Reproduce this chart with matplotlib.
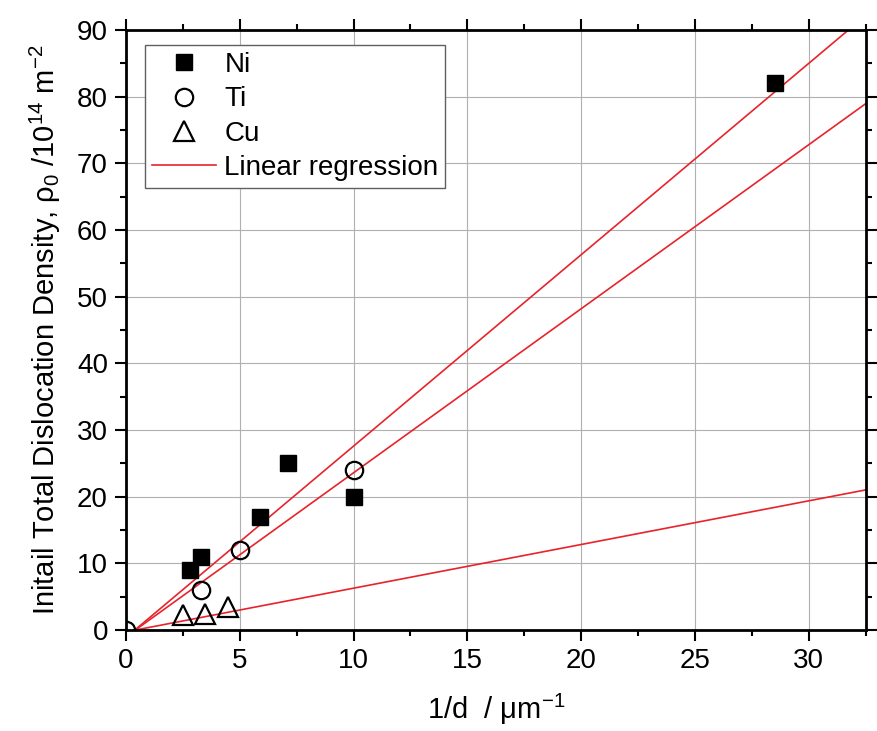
import matplotlib.pyplot as plt
import numpy as np

plt.rcParams['font.family'] = ['Liberation Sans', 'DejaVu Sans']
plt.rcParams['mathtext.fontset'] = 'custom'
plt.rcParams['mathtext.rm'] = 'Liberation Sans'
plt.rcParams['mathtext.it'] = 'Liberation Sans'

# data
ni_x = [2.8, 3.3, 5.9, 7.1, 10.0, 28.5]
ni_y = [9, 11, 17, 25, 20, 82]
ti_x = [0.0, 3.3, 5.0, 10.0]
ti_y = [0, 6, 12, 24]
cu_x = [2.5, 3.45, 4.5]
cu_y = [2.2, 2.4, 3.5]

# regression lines (slope, intercept)
fits = [(2.87, -1.1), (2.46, -1.0), (0.655, -0.26)]

fig = plt.figure(figsize=(8.78, 7.31), dpi=100)
ax = fig.add_axes([0.1435, 0.138, 0.8425, 0.821])

xl = np.array([0, 33])
for i, (m, b) in enumerate(fits):
    ax.plot(xl, m * xl + b, color='#e8232b', linewidth=1.2,
            label='Linear regression' if i == 0 else None, zorder=2)

ax.plot(ni_x, ni_y, 's', color='black', markersize=11.5, linestyle='none',
        label='Ni', zorder=3)
ax.plot(ti_x, ti_y, 'o', markerfacecolor='none', markeredgecolor='black',
        markersize=12.5, markeredgewidth=1.6, linestyle='none', label='Ti', zorder=3)
ax.plot(cu_x, cu_y, '^', markerfacecolor='none', markeredgecolor='black',
        markersize=14, markeredgewidth=1.6, linestyle='none', label='Cu', zorder=3)

ax.set_xlim(0, 32.5)
ax.set_ylim(0, 90)
ax.set_xticks(np.arange(0, 31, 5))
ax.set_xticks(np.arange(2.5, 33, 5), minor=True)
ax.set_yticks(np.arange(0, 91, 10))
ax.set_yticks(np.arange(5, 90, 10), minor=True)
ax.grid(True, which='major', color='#b0b0b0', linewidth=0.8)
ax.set_axisbelow(True)

for s in ax.spines.values():
    s.set_linewidth(2)
ax.tick_params(which='major', direction='out', length=8, width=1.5,
               top=True, right=True, labelsize=20, pad=5)
ax.tick_params(which='minor', direction='out', length=4, width=1.5,
               top=True, right=True)

ax.set_xlabel(r'1/d  / $\mu$m$^{-1}$', fontsize=21, labelpad=13)
ax.set_ylabel(r'Initail Total Dislocation Density, $\rho_0$ /10$^{14}$ m$^{-2}$',
              fontsize=21, labelpad=10)

h, l = ax.get_legend_handles_labels()
order = [1, 2, 3, 0]
ax.legend([h[i] for i in order], [l[i] for i in order], loc='upper left',
          bbox_to_anchor=(0.026, 0.975), fontsize=20, fancybox=False,
          edgecolor='#606060', framealpha=1, handlelength=2.3,
          borderpad=0.25, labelspacing=0.3, handletextpad=0.3,
          borderaxespad=0)

plt.savefig('out.png', dpi=100)
